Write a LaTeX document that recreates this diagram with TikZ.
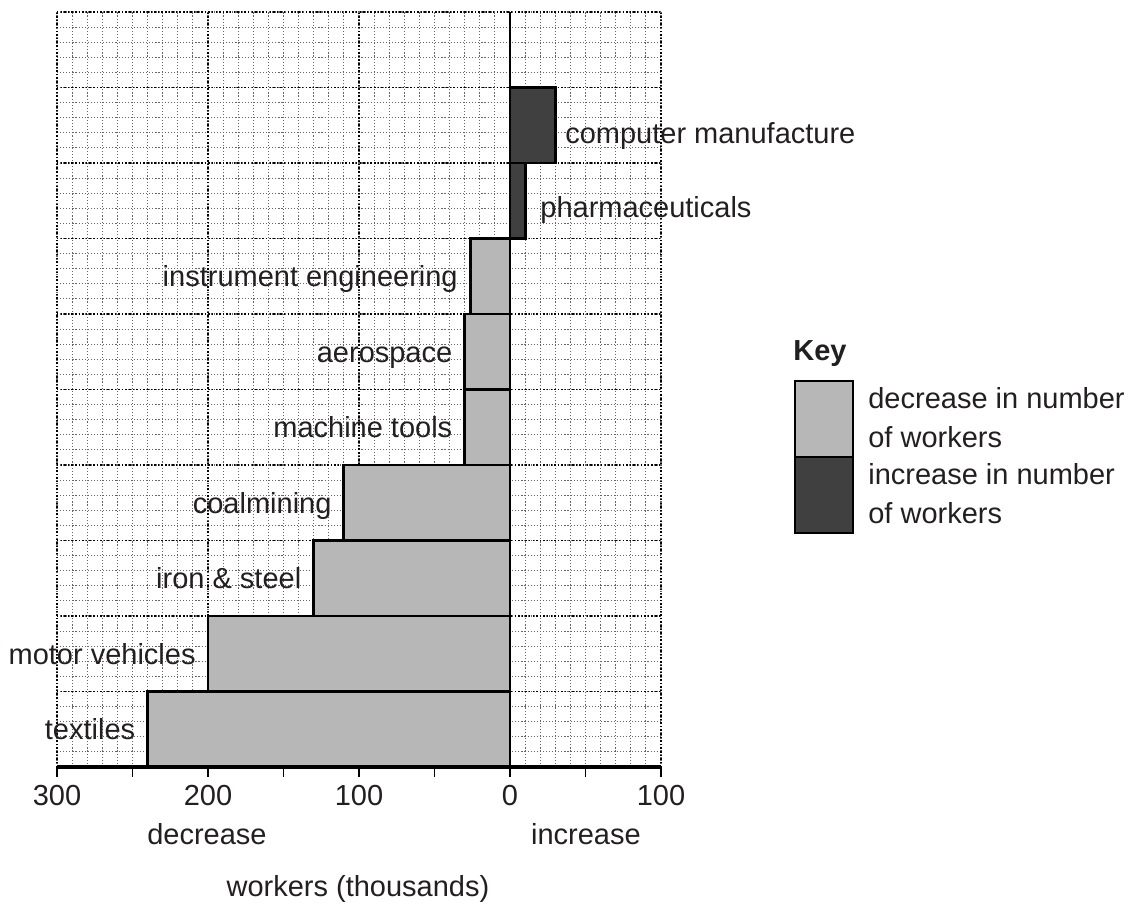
\documentclass[tikz,border=0pt]{standalone}
\usepackage{fontspec}
\setmainfont{Liberation Sans}
\usepackage{xcolor}
\definecolor{inkgray}{HTML}{231F20}
\definecolor{lossgray}{HTML}{B7B7B7}
\definecolor{gaingray}{HTML}{404040}

\begin{document}
\begin{tikzpicture}[x=0.302mm, y=0.302mm, font=\fontsize{16.5}{22}\selectfont, text=inkgray,
	loss/.style={fill=lossgray, draw=black, line width=1.6pt},
	gain/.style={fill=gaingray, draw=black, line width=1.6pt},
	lbl/.style={inner sep=0pt}]
	\useasboundingbox (-337.75,-95.36) rectangle (414.57,507.95);
	\coordinate (O) at (0,0);
	\coordinate (L) at (-300,0);
	\coordinate (R) at (100,0);
	\coordinate (T) at (0,500);
	\coordinate (TR) at (100,500);
	% grid
	\draw[black!60, line width=0.65pt, dash pattern=on 0.65pt off 1.1pt, step=10] (L) grid (TR);
	\draw[black, line width=0.85pt, dash pattern=on 0.85pt off 1.2pt, xstep=100, ystep=50] (L) grid (TR);
	% bars
	\draw[loss] (O) rectangle (-240,50);
	\draw[loss] (0,50) rectangle (-200,100);
	\draw[loss] (0,100) rectangle (-130,150);
	\draw[loss] (0,150) rectangle (-110,200);
	\draw[loss] (0,200) rectangle (-30,250);
	\draw[loss] (0,250) rectangle (-30,300);
	\draw[loss] (0,300) rectangle (-26,350);
	\draw[gain] (0,350) rectangle (10,400);
	\draw[gain] (0,400) rectangle (30,450);
	\draw[line width=1.1pt] (O) -- (T);
	% axis
	\draw[line width=1.8pt] (L) -- (R);
	\foreach \x in {-300,-250,...,100}
		\draw[line width=1.1pt] (\x,0) -- (\x,-6.6);
	\path (-300,-19.2) node [lbl] (n300) {300};
	\path (-200,-19.2) node [lbl] (n200) {200};
	\path (-100,-19.2) node [lbl] (n100) {100};
	\path (0,-19.2) node [lbl] (n0) {0};
	\path (100,-19.2) node [lbl] (p100) {100};
	\path (-200.7,-44.4) node [lbl] (dec) {decrease};
	\path (50.3,-44.4) node [lbl] (inc) {increase};
	\path (-100.7,-81) node [lbl] (title) {workers (thousands)};
	% bar labels
	\path (-248,21) node [anchor=mid east, lbl] (textiles) {textiles};
	\path (-208,71) node [anchor=mid east, lbl] (motor) {motor vehicles};
	\path (-138,121) node [anchor=mid east, lbl] (iron) {iron \& steel};
	\path (-118,171) node [anchor=mid east, lbl] (coal) {coalmining};
	\path (-38,221) node [anchor=mid east, lbl] (machine) {machine tools};
	\path (-38,271) node [anchor=mid east, lbl] (aero) {aerospace};
	\path (-34.4,321) node [anchor=mid east, lbl] (instr) {instrument engineering};
	\path (19.9,367) node [anchor=mid west, lbl] (pharma) {pharmaceuticals};
	\path (36.4,416) node [anchor=mid west, lbl] (computer) {computer manufacture};
	% key
	\path (187.4,274) node [anchor=west, lbl, font=\fontsize{16.5}{22}\selectfont\bfseries] (key) {Key};
	\draw[loss] (188.7,205.3) rectangle (227.2,255.6);
	\draw[gain] (188.7,155) rectangle (227.2,205.3);
	\path (237.1,231.5) node [anchor=west, align=left, lbl] (keyloss) {decrease in number\\of workers};
	\path (237.1,181) node [anchor=west, align=left, lbl] (keygain) {increase in number\\of workers};
\end{tikzpicture}
\end{document}
